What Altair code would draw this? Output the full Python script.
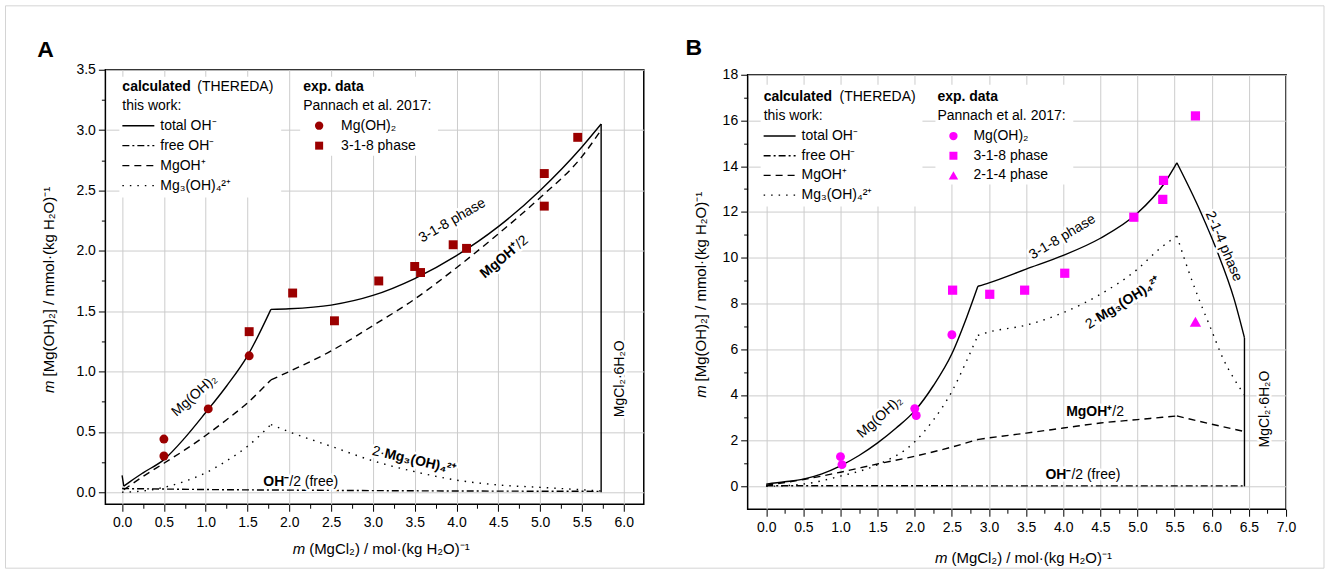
import altair as alt
import pandas as pd

FONT = "Liberation Sans"
W, H = 539, 435
RED = "#9b0000"
MAGENTA = "#ff00ff"
GRID = "#cccccc"
LW = 1.4
DASH_FREE = [7, 3, 2, 3]
DASH_MGOH = [7, 5]
DASH_MG3 = [1.5, 6]

# ---------------- Panel A ----------------
a_xdom = [-0.2, 6.24]
a_ydom = [-0.1, 3.5]
a_xticks = [0.0, 0.5, 1.0, 1.5, 2.0, 2.5, 3.0, 3.5, 4.0, 4.5, 5.0, 5.5, 6.0]
a_xminor = [0.25, 0.75, 1.25, 1.75, 2.25, 2.75, 3.25, 3.75, 4.25, 4.75, 5.25, 5.75]
a_yticks = [0.0, 0.5, 1.0, 1.5, 2.0, 2.5, 3.0, 3.5]
a_yminor = [0.25, 0.75, 1.25, 1.75, 2.25, 2.75, 3.25]

a_total_x = [0.0, 0.02, 0.1, 0.25, 0.5, 0.75, 1.0, 1.25, 1.5, 1.78, 2.0, 2.5, 3.0, 3.5, 4.0, 4.5, 5.0, 5.5, 5.73, 5.73]
a_total_y = [0.14, 0.05, 0.09, 0.16, 0.27, 0.45, 0.66, 0.88, 1.13, 1.515, 1.52, 1.55, 1.63, 1.77, 1.96, 2.2, 2.5, 2.86, 3.05, 0.0]
a_total_breaks = [1, 9, 18]
a_free_x = [0.0, 0.5, 1.0, 2.0, 3.0, 4.0, 5.0, 5.73]
a_free_y = [0.03, 0.026, 0.022, 0.017, 0.013, 0.01, 0.008, 0.007]
a_free_breaks = []
a_mgoh_x = [0.02, 0.25, 0.5, 0.75, 1.0, 1.25, 1.5, 1.78, 2.0, 2.5, 3.0, 3.5, 4.0, 4.5, 5.0, 5.5, 5.73]
a_mgoh_y = [0.02, 0.13, 0.24, 0.35, 0.47, 0.6, 0.74, 0.93, 1.0, 1.17, 1.38, 1.6, 1.86, 2.14, 2.44, 2.78, 3.0]
a_mgoh_breaks = [7]
a_mg3_x = [0.0, 0.25, 0.5, 0.75, 1.0, 1.25, 1.5, 1.78, 2.0, 2.5, 3.0, 3.5, 4.0, 4.5, 5.0, 5.5, 5.73]
a_mg3_y = [0.0, 0.01, 0.04, 0.09, 0.16, 0.26, 0.38, 0.56, 0.5, 0.38, 0.26, 0.17, 0.1, 0.06, 0.04, 0.02, 0.01]
a_mg3_breaks = [7]

a_mgoh2_x = [0.5, 0.5, 1.03, 1.52]
a_mgoh2_y = [0.44, 0.30, 0.69, 1.13]
a_p318_x = [1.52, 2.04, 2.54, 3.07, 3.5, 3.57, 3.96, 4.12, 5.05, 5.05, 5.45]
a_p318_y = [1.33, 1.65, 1.42, 1.75, 1.87, 1.82, 2.05, 2.02, 2.64, 2.37, 2.94]

# ---------------- Panel B ----------------
b_xdom = [-0.25, 7.0]
b_ydom = [-1.0, 18.0]
b_xticks = [0.0, 0.5, 1.0, 1.5, 2.0, 2.5, 3.0, 3.5, 4.0, 4.5, 5.0, 5.5, 6.0, 6.5, 7.0]
b_xminor = [0.25, 0.75, 1.25, 1.75, 2.25, 2.75, 3.25, 3.75, 4.25, 4.75, 5.25, 5.75, 6.25, 6.75]
b_yticks = [0, 2, 4, 6, 8, 10, 12, 14, 16, 18]
b_yminor = [1, 3, 5, 7, 9, 11, 13, 15, 17]

b_total_x = [0.0, 0.25, 0.5, 0.75, 1.0, 1.25, 1.5, 1.75, 2.0, 2.25, 2.5, 2.7, 2.85, 3.0, 3.5, 4.0, 4.5, 5.0, 5.35, 5.53, 5.85, 6.07, 6.3, 6.44, 6.44]
b_total_y = [0.1, 0.2, 0.32, 0.55, 0.9, 1.35, 1.9, 2.55, 3.3, 4.4, 5.8, 7.4, 8.75, 8.9, 9.5, 10.1, 10.85, 11.95, 13.2, 14.15, 12.0, 10.3, 8.2, 6.5, 0.0]
b_total_breaks = [12, 19, 23]
b_free_x = [0.0, 1.0, 2.0, 3.0, 4.0, 5.0, 6.44]
b_free_y = [0.03, 0.03, 0.03, 0.02, 0.02, 0.02, 0.02]
b_free_breaks = []
b_mgoh_x = [0.0, 0.5, 1.0, 1.5, 2.0, 2.5, 2.85, 3.0, 3.5, 4.0, 4.5, 5.0, 5.53, 6.0, 6.44]
b_mgoh_y = [0.05, 0.3, 0.62, 0.98, 1.32, 1.72, 2.05, 2.12, 2.33, 2.55, 2.77, 2.92, 3.08, 2.72, 2.4]
b_mgoh_breaks = [6, 12]
b_mg3_x = [0.0, 0.5, 1.0, 1.5, 2.0, 2.25, 2.5, 2.7, 2.85, 3.0, 3.5, 4.0, 4.5, 5.0, 5.3, 5.53, 5.7, 5.85, 6.0, 6.15, 6.3, 6.44]
b_mg3_y = [0.0, 0.1, 0.45, 0.95, 1.95, 2.9, 4.15, 5.5, 6.6, 6.75, 7.05, 7.6, 8.4, 9.5, 10.4, 10.95, 9.3, 8.0, 6.8, 5.6, 4.7, 4.0]
b_mg3_breaks = [8, 15]

b_mgoh2_x = [1.0, 1.02, 2.0, 2.02, 2.5]
b_mgoh2_y = [1.3, 0.95, 3.4, 3.1, 6.63]
b_p318_x = [2.51, 3.01, 3.48, 4.02, 4.95, 5.34, 5.35, 5.78]
b_p318_y = [8.58, 8.4, 8.58, 9.32, 11.77, 12.55, 13.38, 16.2]
b_p214_x = [5.78]
b_p214_y = [7.2]

# Curve labels: (x, y, text, weight, align, angle)
a_notes = [
    (0.865, 0.80, "Mg(OH)₂", "normal", "center", 318),
    (3.95, 2.25, "3-1-8 phase", "normal", "center", 330),
    (4.73, 2.04, "MgOH⁺", "bold", "right", 320),
    (4.73, 2.04, "/2", "normal", "left", 320),
    (3.14, 0.32, "2·", "normal", "right", 13),
    (3.14, 0.32, "Mg₃(OH)₄²⁺", "bold", "left", 13),
    (2.0, 0.083, "OH⁻", "bold", "right", 0),
    (2.0, 0.083, "/2 (free)", "normal", "left", 0),
    (5.95, 0.94, "MgCl₂·6H₂O", "normal", "center", 270),
]
b_notes = [
    (1.53, 3.03, "Mg(OH)₂", "normal", "center", 318),
    (3.99, 10.9, "3-1-8 phase", "normal", "center", 329),
    (6.16, 10.5, "2-1-4 phase", "normal", "center", 67),
    (4.46, 7.31, "2·", "normal", "right", 328),
    (4.46, 7.31, "Mg₃(OH)₄²⁺", "bold", "left", 328),
    (4.66, 3.25, "MgOH⁺", "bold", "right", 0),
    (4.66, 3.25, "/2", "normal", "left", 0),
    (4.11, 0.5, "OH⁻", "bold", "right", 0),
    (4.11, 0.5, "/2 (free)", "normal", "left", 0),
    (6.72, 3.38, "MgCl₂·6H₂O", "normal", "center", 270),
]

line_labels = ["total OH⁻", "free OH⁻", "MgOH⁺", "Mg₃(OH)₄²⁺"]
line_dashes = [None, DASH_FREE, DASH_MGOH, DASH_MG3]


def one():
    return pd.DataFrame({"v": [0]})


def series(x, y):
    return pd.DataFrame({"x": x, "y": y, "i": list(range(len(x)))})


def pieces(x, y, breaks):
    """Split a curve at its kinks so each smooth branch is drawn on its own."""
    cuts = [0] + list(breaks) + [len(x) - 1]
    return [(x[a:b + 1], y[a:b + 1]) for a, b in zip(cuts[:-1], cuts[1:]) if b > a]


def px_text(x, y, text, **kw):
    props = dict(text=text, font=FONT, fontSize=14, align="left", baseline="middle", color="black")
    props.update(kw)
    return alt.Chart(one()).mark_text(**props).encode(x=alt.value(x), y=alt.value(y))


def px_rect(x1, x2, y1, y2, **kw):
    props = dict(color="white")
    props.update(kw)
    return alt.Chart(one()).mark_rect(**props).encode(
        x=alt.value(x1), x2=alt.value(x2), y=alt.value(y1), y2=alt.value(y2))


def build_panel(P):
    xs = alt.Scale(domain=P["xdom"], nice=False, zero=False)
    ys = alt.Scale(domain=P["ydom"], nice=False, zero=False)

    def enc():
        return dict(x=alt.X("x:Q", scale=xs, axis=None), y=alt.Y("y:Q", scale=ys, axis=None))

    layers = list(P.get("extra_bottom", []))
    dom = pd.DataFrame({"x": P["xdom"], "y": P["ydom"]})
    layers.append(alt.Chart(dom).mark_point(opacity=0).encode(
        x=alt.X("x:Q", scale=xs, title=None, axis=alt.Axis(
            values=P["xticks"], format=".1f", orient="bottom", grid=True, tickSize=7,
            labelPadding=4, domain=False, labelFlush=False, labelOverlap=False)),
        y=alt.Y("y:Q", scale=ys, title=None, axis=alt.Axis(
            values=P["yticks"], format=P["yfmt"], orient="left", grid=True, tickSize=7,
            labelPadding=3, domain=False, labelFlush=False, labelOverlap=False)),
    ))
    layers.append(alt.Chart(dom).mark_point(opacity=0).encode(
        x=alt.X("x:Q", scale=xs, title=None, axis=alt.Axis(
            values=P["xminor"], orient="bottom", grid=False, labels=False, tickSize=4, domain=False)),
        y=alt.Y("y:Q", scale=ys, title=None, axis=alt.Axis(
            values=P["yminor"], orient="left", grid=False, labels=False, tickSize=4, domain=False)),
    ))

    # calculated curves, each smooth branch separately
    for (cx, cy, brk), dash in zip(P["curves"], line_dashes):
        kw = {"strokeDash": dash} if dash else {}
        for sx, sy in pieces(cx, cy, brk):
            interp = "monotone" if len(sx) > 2 else "linear"
            layers.append(alt.Chart(series(sx, sy)).mark_line(
                color="black", strokeWidth=LW, interpolate=interp, **kw).encode(order="i:Q", **enc()))

    # experimental points
    for (px_, py_), shape, size in P["points"]:
        layers.append(alt.Chart(series(px_, py_)).mark_point(
            filled=True, shape=shape, size=size, color=P["color"], opacity=1).encode(**enc()))

    # curve labels: white halo first, then the text
    halos, texts = [], []
    for (nx, ny, t, wt, al, ang) in P["notes"]:
        df = pd.DataFrame({"x": [nx], "y": [ny]})
        base = dict(text=t, angle=ang, align=al, baseline="middle", font=FONT, fontSize=14, fontWeight=wt)
        halos.append(alt.Chart(df).mark_text(color="white", stroke="white", strokeWidth=5,
                                             strokeJoin="round", **base).encode(**enc()))
        texts.append(alt.Chart(df).mark_text(color="black", **base).encode(**enc()))
    layers += halos + texts

    # legend block
    L = P["legend"]
    rows = L["rows"]
    layers.append(px_rect(*L["box1"]))
    layers.append(px_rect(*L["box2"]))
    layers.append(px_text(L["c1"], rows[0], "calculated", fontWeight="bold"))
    layers.append(px_text(L["c1b"], rows[0], "(THEREDA)"))
    layers.append(px_text(L["c1"], rows[1], "this work:"))
    for k, (lab, dash) in enumerate(zip(line_labels, line_dashes)):
        kw = {"strokeDash": dash} if dash else {}
        layers.append(alt.Chart(one()).mark_rule(color="black", strokeWidth=LW, **kw).encode(
            x=alt.value(L["c1"]), x2=alt.value(L["c1"] + 32), y=alt.value(rows[k + 2])))
        layers.append(px_text(L["c1"] + 38, rows[k + 2], lab))
    layers.append(px_text(L["c2"], rows[0], "exp. data", fontWeight="bold"))
    layers.append(px_text(L["c2"], rows[1], "Pannach et al. 2017:"))
    for k, (shape, size, lab) in enumerate(L["symbols"]):
        layers.append(alt.Chart(one()).mark_point(filled=True, shape=shape, size=size,
                                                  color=P["color"], opacity=1).encode(
            x=alt.value(L["c2"] + 16), y=alt.value(rows[k + 2])))
        layers.append(px_text(L["c2"] + L["symtext"], rows[k + 2], lab))

    # axis titles and panel letter
    T = P["titles"]
    layers.append(px_text(T["xj"], T["xy"], "m", align="right", fontStyle="italic", fontSize=15))
    layers.append(px_text(T["xj"] + 4, T["xy"], "(MgCl₂) / mol·(kg H₂O)⁻¹", fontSize=15))
    layers.append(px_text(T["yx"], T["yj"], "m", align="right", fontStyle="italic", angle=270, fontSize=15))
    layers.append(px_text(T["yx"], T["yj"] - 4, "[Mg(OH)₂] / mmol·(kg H₂O)⁻¹", angle=270, fontSize=15))
    layers.append(px_text(T["lx"], T["ly"], P["letter"], align="center", fontSize=23, fontWeight="bold"))

    return alt.layer(*layers).resolve_axis(x="independent", y="independent").properties(width=W, height=H)


PA = dict(
    xdom=a_xdom, ydom=a_ydom, xticks=a_xticks, xminor=a_xminor, yticks=a_yticks, yminor=a_yminor,
    yfmt=".1f", color=RED, letter="A",
    curves=[(a_total_x, a_total_y, a_total_breaks), (a_free_x, a_free_y, a_free_breaks),
            (a_mgoh_x, a_mgoh_y, a_mgoh_breaks), (a_mg3_x, a_mg3_y, a_mg3_breaks)],
    points=[((a_mgoh2_x, a_mgoh2_y), "circle", 80), ((a_p318_x, a_p318_y), "square", 80)],
    notes=a_notes,
    legend=dict(rows=[17, 36.5, 56, 76, 96, 116], box1=(14, 176, 7, 128), box2=(195, 333, 7, 86),
                c1=17, c1b=92, c2=198, symtext=38,
                symbols=[("circle", 70, "Mg(OH)₂"), ("square", 64, "3-1-8 phase")]),
    titles=dict(xj=200, xy=480, yx=-56, yj=311, lx=-60, ly=-20),
    extra_bottom=[px_rect(-100, 1220, -64, 499, fill="white", fillOpacity=0, stroke="#d4d4d4", strokeWidth=1)],
)

PB = dict(
    xdom=b_xdom, ydom=b_ydom, xticks=b_xticks, xminor=b_xminor, yticks=b_yticks, yminor=b_yminor,
    yfmt="d", color=MAGENTA, letter="B",
    curves=[(b_total_x, b_total_y, b_total_breaks), (b_free_x, b_free_y, b_free_breaks),
            (b_mgoh_x, b_mgoh_y, b_mgoh_breaks), (b_mg3_x, b_mg3_y, b_mg3_breaks)],
    points=[((b_mgoh2_x, b_mgoh2_y), "circle", 80), ((b_p318_x, b_p318_y), "square", 85),
            ((b_p214_x, b_p214_y), "triangle-up", 130)],
    notes=b_notes,
    legend=dict(rows=[22, 41.7, 61.4, 81.1, 100.8, 120.5], box1=(13, 175, 10, 132), box2=(188, 326, 10, 110),
                c1=16, c1b=92, c2=190, symtext=36,
                symbols=[("circle", 70, "Mg(OH)₂"), ("square", 64, "3-1-8 phase"),
                         ("triangle-up", 90, "2-1-4 phase")]),
    titles=dict(xj=200, xy=484, yx=-47, yj=311, lx=-54, ly=-27),
)

panel_a = build_panel(PA)
panel_b = build_panel(PB)

spacer = alt.Chart(one()).mark_point(opacity=0).encode(
    x=alt.value(0), y=alt.value(0)).properties(width=W, height=1, view=alt.ViewBackground(strokeOpacity=0))

right = alt.vconcat(spacer, panel_b, spacing=4, bounds="flush")
chart = alt.hconcat(panel_a, right, spacing=104, bounds="flush").properties(
    padding={"left": 3.5, "top": 3.5, "right": 2, "bottom": 2}, background="white"
).configure_view(stroke="black", strokeWidth=1.5).configure_axis(
    labelFont=FONT, labelFontSize=14, labelColor="black", tickColor="black", tickWidth=1,
    gridColor=GRID, gridWidth=1
)

chart.save("out.html", embed_options={"renderer": "svg", "actions": False})
